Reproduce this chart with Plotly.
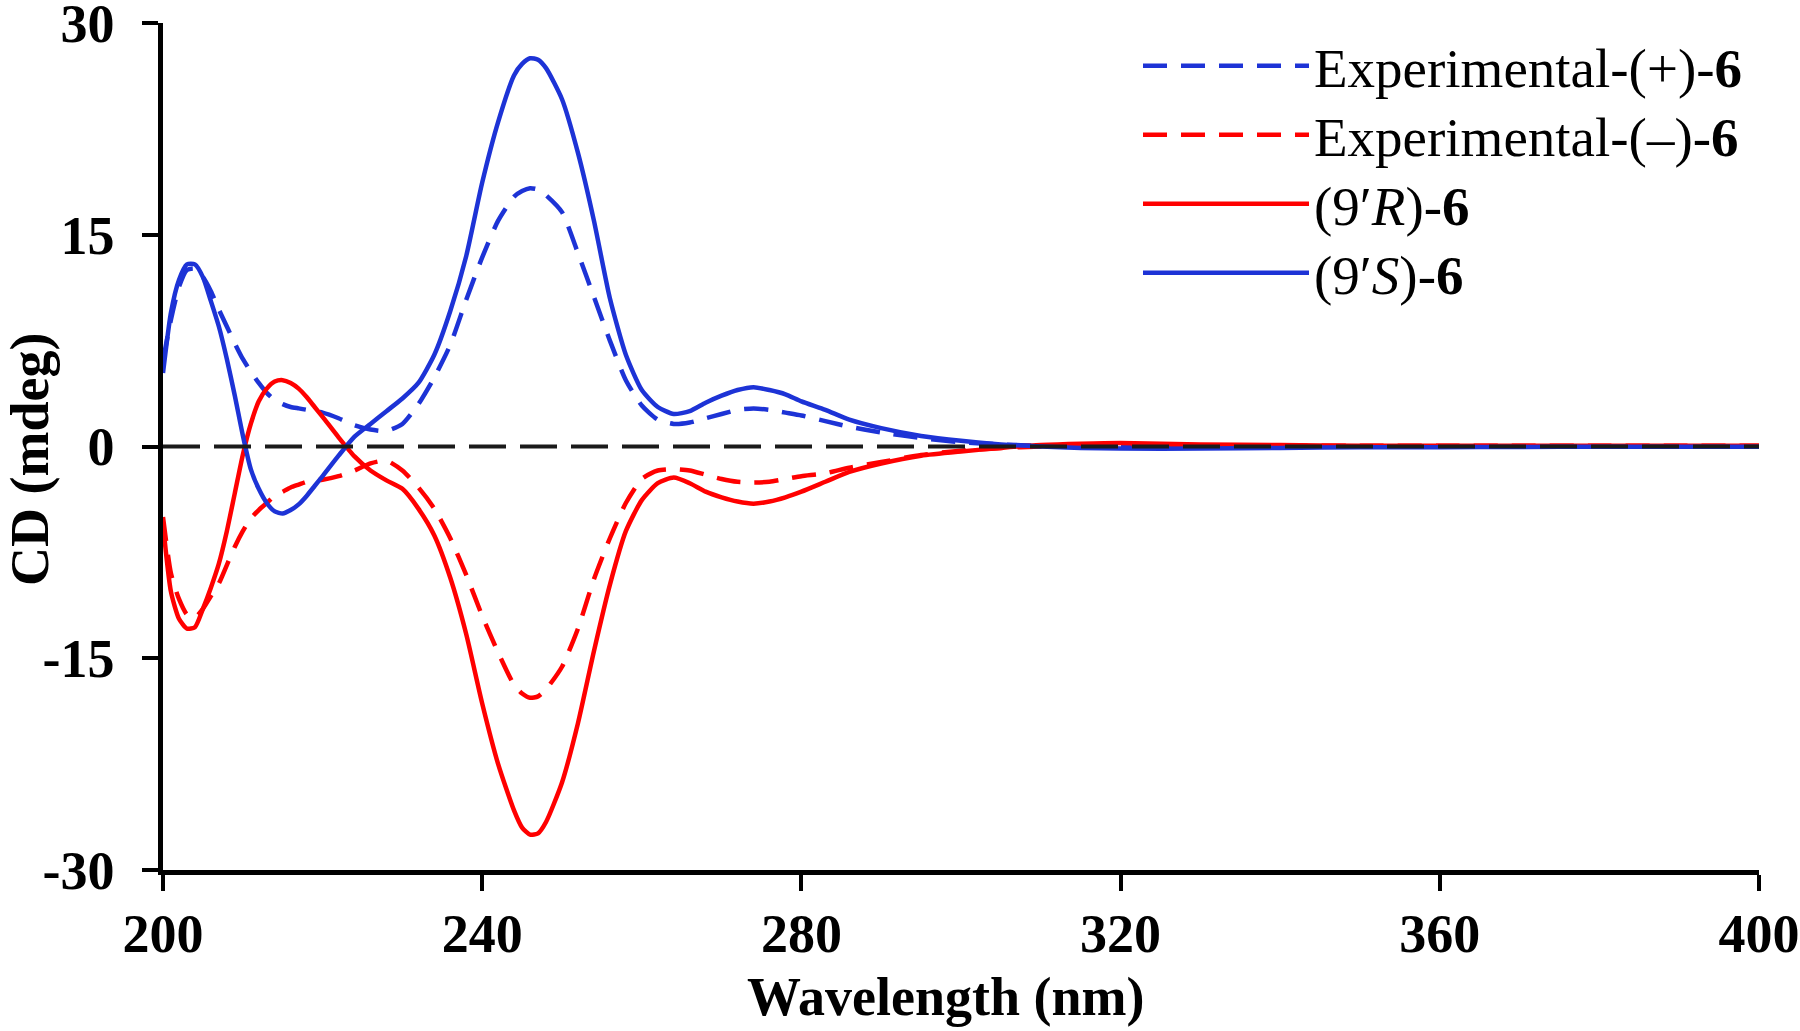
import plotly.graph_objects as go

# Wavelength grid (nm)
wavelength = [200, 201, 202, 203, 204, 205, 206, 207, 208, 209, 210, 211, 212, 213, 214,
              215, 216, 217, 218, 219, 220, 222, 224, 226, 228, 230, 232, 234, 236, 238,
              240, 242, 244, 245, 246, 247, 248, 250, 252, 254, 256, 258, 260, 262, 264,
              266, 268, 270, 272, 274, 276, 278, 280, 283, 286, 290, 295, 300, 305, 310,
              315, 320, 330, 340, 350, 360, 370, 380, 390, 400]

# Experimental-(+)-6 (blue dashed)
exp_plus = [6.1, 9.0, 11.3, 12.5, 12.6, 12.0, 11.0, 9.7, 8.5, 7.3, 6.2, 5.3, 4.5, 3.8, 3.3,
            3.0, 2.8, 2.7, 2.6, 2.5, 2.4, 2.0, 1.5, 1.2, 1.1, 1.6, 3.0, 4.9, 7.2, 10.4,
            13.4, 16.0, 17.7, 18.1, 18.3, 18.2, 17.8, 16.6, 13.7, 10.6, 7.5, 4.7, 2.9, 1.9, 1.6,
            1.7, 2.0, 2.3, 2.6, 2.7, 2.6, 2.4, 2.2, 1.8, 1.4, 1.0, 0.6, 0.3, 0.15, 0.05,
            0.0, 0.0, 0.0, 0.0, 0.0, 0.0, 0.0, 0.0, 0.0, 0.0]

# Experimental-(–)-6 (red dashed)
exp_minus = [-5.0, -9.0, -10.8, -11.9, -12.1, -11.5, -10.6, -9.7, -8.4, -7.1, -6.0, -5.1, -4.5, -4.0, -3.5,
             -3.2, -2.9, -2.7, -2.5, -2.4, -2.35, -2.1, -1.7, -1.2, -1.0, -1.7, -2.9, -4.4, -6.5, -9.1,
             -12.0, -14.6, -16.9, -17.5, -17.8, -17.7, -17.2, -15.6, -12.9, -9.4, -6.5, -4.0, -2.3, -1.7, -1.6,
             -1.7, -2.0, -2.3, -2.5, -2.55, -2.5, -2.3, -2.1, -1.9, -1.5, -1.1, -0.6, -0.3, -0.1, 0.0,
             0.05, 0.05, 0.05, 0.05, 0.05, 0.05, 0.05, 0.05, 0.05, 0.05]

# (9'R)-6 calculated (red solid)
calc_R = [-5.5, -10.3, -12.2, -12.9, -12.8, -11.5, -10.0, -8.3, -6.0, -3.3, -0.6, 1.6, 3.2, 4.1, 4.6,
          4.7, 4.5, 4.1, 3.5, 2.8, 2.1, 0.65, -0.7, -1.7, -2.4, -3.0, -4.4, -6.3, -9.3, -13.3,
          -18.2, -22.5, -25.8, -27.0, -27.5, -27.4, -26.6, -23.8, -19.6, -14.5, -9.8, -6.0, -3.8, -2.6, -2.2,
          -2.6, -3.2, -3.6, -3.9, -4.05, -3.9, -3.6, -3.2, -2.5, -1.8, -1.2, -0.65, -0.35, -0.1, 0.1,
          0.2, 0.25, 0.15, 0.1, 0.05, 0.05, 0.05, 0.05, 0.05, 0.05]

# (9'S)-6 calculated (blue solid)
calc_S = [5.2, 9.5, 11.8, 12.9, 12.9, 12.0, 10.3, 8.5, 6.2, 3.6, 0.8, -1.6, -3.0, -4.0, -4.6,
          -4.75, -4.5, -4.1, -3.5, -2.8, -2.1, -0.65, 0.7, 1.6, 2.5, 3.4, 4.5, 6.5, 9.6, 13.5,
          18.7, 23.0, 26.3, 27.1, 27.5, 27.4, 26.8, 24.6, 20.8, 16.0, 10.5, 6.5, 4.0, 2.8, 2.3,
          2.5, 3.1, 3.6, 4.0, 4.2, 4.0, 3.7, 3.2, 2.6, 1.9, 1.3, 0.75, 0.4, 0.15, 0.0,
          -0.1, -0.15, -0.15, -0.1, -0.05, -0.05, -0.03, -0.02, -0.02, -0.02]

x_ticks = [200, 240, 280, 320, 360, 400]
y_ticks = [-30, -15, 0, 15, 30]

BLUE = "#1d33d6"
RED = "#ff0000"
FONT = "Liberation Serif"

# plot area in pixels: x 163..1759, y 23..870
PL, PR, PT, PB = 163, 1759, 23, 870

def px_to_paper_x(px):
    return (px - PL) / (PR - PL)

def px_to_paper_y(py):
    return (PB - py) / (PB - PT)

fig = go.Figure()
series = [
    ("Experimental-(+)-<b>6</b>", exp_plus, BLUE, "24px,14px", "legend"),
    ("Experimental-(–)-<b>6</b>", exp_minus, RED, "24px,14px", "legend2"),
    ("(9′<i>R</i>)-<b>6</b>", calc_R, RED, "solid", "legend3"),
    ("(9′<i>S</i>)-<b>6</b>", calc_S, BLUE, "solid", "legend4"),
]
for name, vals, col, dash, leg in series:
    fig.add_trace(go.Scatter(
        x=wavelength, y=vals, name=name, mode="lines", legend=leg,
        line=dict(color=col, width=4.5, dash=dash, shape="spline", smoothing=0.6),
    ))

# zero reference line (dashed, above curves)
fig.add_shape(type="line", xref="paper", x0=0, x1=1, yref="y", y0=0, y1=0,
              line=dict(color="#1a1a1a", width=4, dash="37px,14px"), layer="above")

legend_rows = [66, 135, 204, 273]
legend_common = dict(
    xanchor="left", yanchor="middle",
    font=dict(family=FONT, size=55, color="black"),
    itemwidth=166, bgcolor="rgba(0,0,0,0)", borderwidth=0,
)
legends = {}
for i, row in enumerate(legend_rows):
    key = "legend" if i == 0 else f"legend{i + 1}"
    legends[key] = dict(legend_common, x=px_to_paper_x(1138), y=px_to_paper_y(row))

axis_common = dict(
    showline=True, linecolor="black", linewidth=4.5, mirror=False,
    ticks="outside", ticklen=16, tickwidth=4, tickcolor="black",
    showgrid=False, zeroline=False, ticklabeloverflow="allow",
    tickfont=dict(family=FONT, size=54, color="black", weight="bold"),
)

fig.update_layout(
    width=1800, height=1031,
    margin=dict(l=PL, r=1800 - PR, t=PT, b=1031 - PB, autoexpand=False),
    plot_bgcolor="white", paper_bgcolor="white",
    font=dict(family=FONT, color="black"),
    showlegend=True,
    xaxis=dict(axis_common, range=[200, 400], tickvals=x_ticks,
               ticktext=[str(v) for v in x_ticks], ticklabelstandoff=-4),
    yaxis=dict(axis_common, range=[-30, 30], tickvals=y_ticks,
               ticktext=[str(v) for v in y_ticks], ticklabelstandoff=17),
    annotations=[
        dict(text="<b>Wavelength (nm)</b>", xref="paper", yref="paper",
             x=px_to_paper_x(946), y=px_to_paper_y(997), xanchor="center", yanchor="middle",
             showarrow=False, font=dict(family=FONT, size=54, color="black")),
        dict(text="<b>CD (mdeg)</b>", xref="paper", yref="paper",
             x=px_to_paper_x(30), y=px_to_paper_y(460), xanchor="center", yanchor="middle",
             showarrow=False, textangle=-90, font=dict(family=FONT, size=54, color="black")),
    ],
    **legends,
)

fig.write_html("out.html", config={"displayModeBar": False},
               post_script="document.body.style.margin='0px';")
